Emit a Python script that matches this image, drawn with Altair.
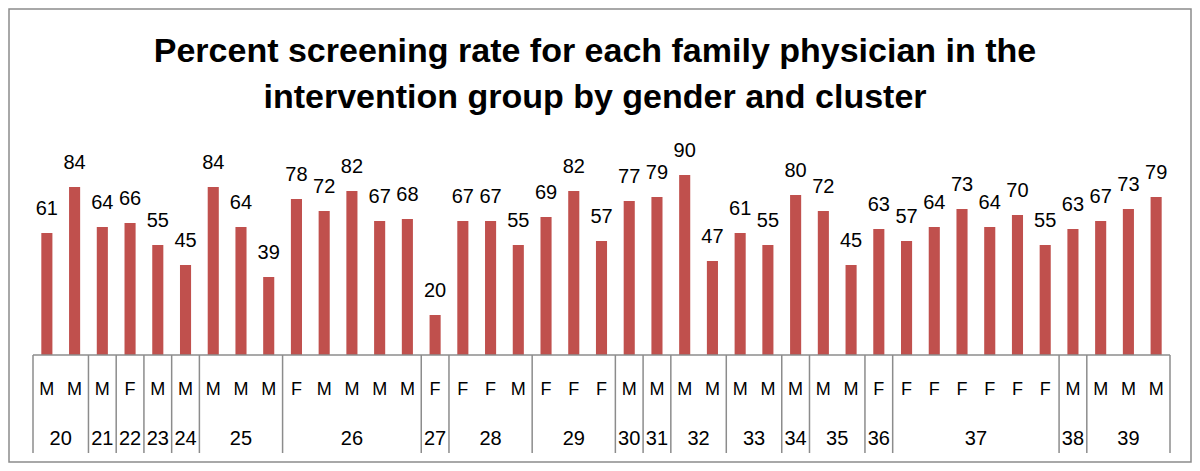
import altair as alt
import pandas as pd

values = [61, 84, 64, 66, 55, 45, 84, 64, 39, 78, 72, 82, 67, 68, 20, 67, 67, 55,
          69, 82, 57, 77, 79, 90, 47, 61, 55, 80, 72, 45, 63, 57, 64, 73, 64, 70,
          55, 63, 67, 73, 79]
genders = ["M", "M", "M", "F", "M", "M", "M", "M", "M", "F", "M", "M", "M", "M",
           "F", "F", "F", "M", "F", "F", "F", "M", "M", "M", "M", "M", "M", "M",
           "M", "M", "F", "F", "F", "F", "F", "F", "F", "M", "M", "M", "M"]
clusters = ["20", "20", "21", "22", "23", "24", "25", "25", "25",
            "26", "26", "26", "26", "26", "27", "28", "28", "28",
            "29", "29", "29", "30", "31", "32", "32", "33", "33", "34",
            "35", "35", "36", "37", "37", "37", "37", "37", "37", "38",
            "39", "39", "39"]
title_lines = ["Percent screening rate for each family physician in the",
               "intervention group by gender and cluster"]

FONT = "Liberation Sans"
BAR = "#C0504D"
GRID = "#8C8C8C"
W, H = 1137, 200

df = pd.DataFrame({"i": list(range(len(values))), "value": values,
                   "gender": genders, "cluster": clusters})
g = df.groupby("cluster", sort=False)["i"].agg(["min", "max"]).reset_index()
g["start"] = g["min"]
g["end"] = g["max"] + 1
g["center"] = (g["start"] + g["end"]) / 2
bounds = pd.DataFrame({"pos": sorted(set(g["start"]).union(set(g["end"])))})
one = pd.DataFrame({"a": [0]})
tdf = pd.DataFrame({"t": [title_lines]})

xb = alt.X("i:O", axis=None, scale=alt.Scale(paddingInner=0.6, paddingOuter=0.3))
yv = alt.Y("value:Q", axis=None, scale=alt.Scale(domain=[0, 100]))
xq = alt.Scale(domain=[0, len(values)], nice=False, zero=False)

base = alt.Chart(df)
bars = base.mark_bar(color=BAR).encode(x=xb, y=yv)
vlabels = base.mark_text(font=FONT, fontSize=20, baseline="alphabetic", dy=-18,
                         color="black").encode(x=xb, y=yv, text="value:Q")
glabels = base.mark_text(font=FONT, fontSize=18, baseline="alphabetic",
                         color="black").encode(x=xb, y=alt.value(240), text="gender:N")

seps = alt.Chart(bounds).mark_rule(color=GRID, strokeWidth=1.5).encode(
    x=alt.X("pos:Q", axis=None, scale=xq), y=alt.value(200), y2=alt.value(298))
clabels = alt.Chart(g).mark_text(font=FONT, fontSize=20, baseline="alphabetic",
                                 color="black").encode(
    x=alt.X("center:Q", axis=None, scale=xq), y=alt.value(290), text="cluster:N")
axisline = alt.Chart(one).mark_rule(color=GRID, strokeWidth=1.5).encode(
    x=alt.value(0), x2=alt.value(W), y=alt.value(200))
border = alt.Chart(one).mark_rect(fill="transparent", stroke=GRID, strokeWidth=1.5).encode(
    x=alt.value(-24), x2=alt.value(1158), y=alt.value(-146), y2=alt.value(307))
title = alt.Chart(tdf).mark_text(font=FONT, fontSize=34, fontWeight="bold",
                                 color="black", align="center", baseline="alphabetic",
                                 lineHeight=46).encode(
    x=alt.value(562), y=alt.value(-93), text="t")

chart = alt.layer(border, title, bars, vlabels, glabels, axisline, seps, clabels).resolve_scale(
    x="independent"
).properties(
    width=W, height=H,
    padding={"left": 25, "top": 147, "right": 22, "bottom": 108},
    autosize="none",
).configure_view(stroke=None)

chart.save("out.html", embed_options={"renderer": "svg", "actions": False})
